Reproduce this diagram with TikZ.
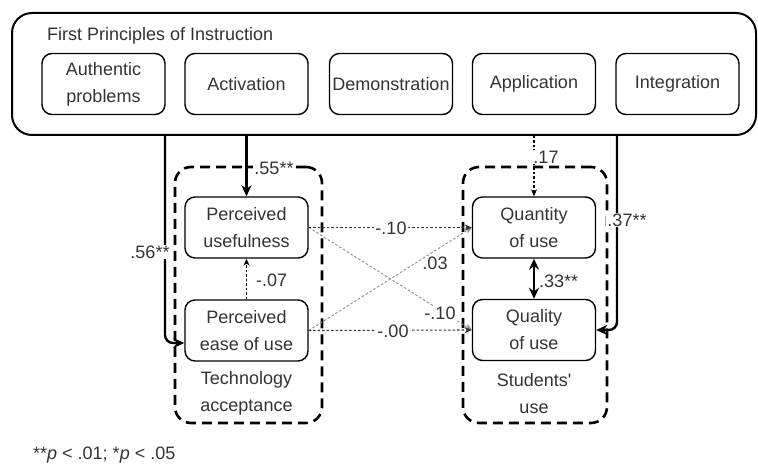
\documentclass[tikz,border=0pt]{standalone}
\usepackage{fontspec}
\setmainfont{Liberation Sans}
\usetikzlibrary{arrows.meta,calc}
\definecolor{txt}{HTML}{333333}
\definecolor{diag}{HTML}{8A8A8A}
\begin{document}
\begin{tikzpicture}[x=1pt,y=-1pt,
  every node/.style={font=\fontsize{18}{27}\selectfont, text=txt},
  box/.style={draw=black, line width=1.4pt, rounded corners=10pt, minimum width=123pt, minimum height=61pt, align=center, inner sep=1pt},
  grp/.style={draw=black, line width=2.6pt, dash pattern=on 10pt off 6pt, rounded corners=16pt},
  thk/.style={line width=2.4pt, -{Stealth[length=11pt,width=10pt]}},
  dotarr/.style={line width=1.1pt, dash pattern=on 2.5pt off 2pt, -{Stealth[length=7pt,width=6pt]}},
  lbl/.style={fill=white, inner sep=1pt},
]
\useasboundingbox (0,0) rectangle (758,465);

% outer container
\node[draw=black, line width=2pt, rounded corners=20pt, minimum width=744pt, minimum height=122pt, inner sep=0] (fpi) at (384,74) {};
\node[anchor=west, inner sep=0] (title) at (47,36) {First Principles of Instruction};
\node[box] (auth) at (103.5,84) {Authentic\\problems};
\node[box] (activ) at (246.5,84) {Activation};
\node[box] (demo) at (391,84) {Demonstration};
\node[box] (appl) at (534,84) {Application};
\node[box] (integ) at (677.5,84) {Integration};

% groups
\node[grp, minimum width=147pt, minimum height=256pt, inner sep=0] (ta) at (248.5,295) {};
\node[grp, minimum width=144pt, minimum height=256pt, inner sep=0] (su) at (535,295) {};

\node[box] (pu) at (246.5,227.5) {Perceived\\usefulness};
\node[box] (peou) at (246.5,330.5) {Perceived\\ease of use};
\node[box] (qty) at (534,227.5) {Quantity\\of use};
\node[box] (qual) at (534,330) {Quality\\of use};

\node[align=center] (talbl) at (246.5,393.5) {Technology\\acceptance};
\node[align=center] (sulbl) at (534,393.5) {Students\textquotesingle\\use};

% paths from FPI
\draw[thk, rounded corners=8pt] (165,0 |- fpi.south) -- (165,343) -- (peou.west |- 0,343);
\node[lbl] (l56) at (150,252) {.56**};

\draw[thk] (activ.south |- fpi.south) -- (pu.north);
\node[lbl] (l55) at (274,168) {.55**};

\draw[dotarr] (534,0 |- fpi.south) -- (qty.north);
\node[lbl] (l17) at (546,157) {.17};

\draw[thk, rounded corners=8pt] (617,0 |- fpi.south) -- (617,330) -- (qual.east);
\node[lbl] (l37) at (627,220) {.37**};

% within groups
\draw[dotarr] (peou.north) -- (pu.south);
\node[anchor=west, inner sep=1pt] (l07) at (255,280) {-.07};

\draw[line width=2.4pt, {Stealth[length=11pt,width=10pt]}-{Stealth[length=11pt,width=10pt]}] (qty.south) -- (qual.north);
\node[anchor=west, inner sep=1pt] (l33) at (538,281) {.33**};

% cross paths
\draw[dotarr, draw=diag, line width=0.9pt] (pu.east) -- (qual.west);
\draw[dotarr, draw=diag, line width=0.9pt] (peou.east) -- (qty.west);
\draw[dotarr, draw=txt] (pu.east) -- (qty.west);
\draw[dotarr, draw=txt] (peou.east) -- (qual.west);
\node[lbl] (l10a) at (391,228) {-.10};
\node[lbl] (l00) at (393,331) {-.00};
\node[inner sep=1pt] (l03) at (435,263) {.03};
\node[lbl] (l10b) at (440,313) {-.10};

% footnote
\node[anchor=west, inner sep=0] (fn) at (33,455) {**\textit{p} < .01; *\textit{p} < .05};
\end{tikzpicture}
\end{document}
